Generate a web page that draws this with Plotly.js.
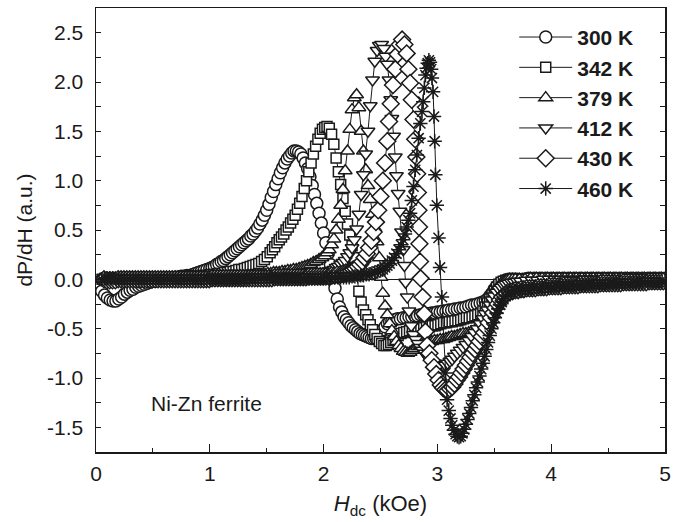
<!DOCTYPE html>
<html>
<head>
<meta charset="utf-8">
<script src="https://cdn.plot.ly/plotly-3.0.1.min.js"></script>
<style>
  html, body { margin: 0; padding: 0; background: #ffffff; }
  #chart { width: 681px; height: 522px; }
</style>
</head>
<body>
<div id="chart"></div>
<script>
// FMR derivative spectra of Ni-Zn ferrite, one list per temperature: [H_dc (kOe), dP/dH (a.u.)]
const spectrum300K = [[0.05,-0.12],[0.075,-0.16],[0.1,-0.19],[0.125,-0.21],[0.15,-0.22],[0.175,-0.22],[0.2,-0.2],[0.225,-0.18],[0.25,-0.15],[0.275,-0.13],[0.3,-0.11],[0.325,-0.1],[0.35,-0.08],[0.375,-0.07],[0.4,-0.06],[0.425,-0.05],[0.45,-0.04],[0.475,-0.03],[0.5,-0.02],[0.525,-0.02],[0.55,-0.01],[0.575,-0.01],[0.6,0],[0.625,0],[0.65,0.01],[0.675,0.01],[0.7,0.02],[0.725,0.02],[0.75,0.03],[0.775,0.03],[0.8,0.04],[0.825,0.04],[0.85,0.05],[0.875,0.06],[0.9,0.07],[0.925,0.08],[0.95,0.09],[0.975,0.1],[1,0.11],[1.02,0.12],[1.04,0.13],[1.06,0.15],[1.08,0.16],[1.1,0.18],[1.12,0.19],[1.14,0.21],[1.16,0.23],[1.18,0.25],[1.2,0.27],[1.22,0.29],[1.24,0.31],[1.26,0.33],[1.28,0.35],[1.3,0.37],[1.32,0.39],[1.34,0.41],[1.36,0.44],[1.38,0.46],[1.4,0.49],[1.42,0.52],[1.44,0.56],[1.46,0.6],[1.48,0.65],[1.5,0.7],[1.52,0.76],[1.54,0.83],[1.56,0.89],[1.58,0.96],[1.6,1.02],[1.62,1.08],[1.64,1.13],[1.66,1.18],[1.68,1.22],[1.7,1.25],[1.72,1.28],[1.74,1.3],[1.76,1.3],[1.78,1.29],[1.8,1.27],[1.82,1.23],[1.84,1.18],[1.86,1.12],[1.88,1.04],[1.9,0.95],[1.92,0.86],[1.94,0.77],[1.96,0.67],[1.98,0.57],[2,0.47],[2.02,0.37],[2.04,0.26],[2.06,0.15],[2.08,0.03],[2.1,-0.09],[2.12,-0.2],[2.14,-0.28],[2.16,-0.33],[2.18,-0.38],[2.2,-0.41],[2.22,-0.44],[2.24,-0.47],[2.26,-0.49],[2.28,-0.51],[2.3,-0.53],[2.32,-0.55],[2.34,-0.56],[2.36,-0.57],[2.38,-0.58],[2.4,-0.59],[2.42,-0.6],[2.44,-0.6],[2.46,-0.6],[2.48,-0.58],[2.5,-0.55],[2.52,-0.51],[2.54,-0.48],[2.56,-0.45],[2.58,-0.43],[2.6,-0.42],[2.625,-0.41],[2.65,-0.4],[2.675,-0.4],[2.7,-0.39],[2.725,-0.39],[2.75,-0.38],[2.775,-0.38],[2.8,-0.37],[2.825,-0.37],[2.85,-0.36],[2.875,-0.36],[2.9,-0.35],[2.925,-0.35],[2.95,-0.34],[2.975,-0.34],[3,-0.33],[3.025,-0.33],[3.05,-0.32],[3.075,-0.32],[3.1,-0.31],[3.125,-0.31],[3.15,-0.3],[3.175,-0.3],[3.2,-0.29],[3.225,-0.29],[3.25,-0.28],[3.275,-0.27],[3.3,-0.26],[3.325,-0.26],[3.35,-0.25],[3.375,-0.24],[3.4,-0.23],[3.42,-0.22],[3.44,-0.2],[3.46,-0.17],[3.48,-0.14],[3.5,-0.1],[3.52,-0.07],[3.54,-0.05],[3.56,-0.03],[3.58,-0.02],[3.6,-0.01],[3.625,0],[3.65,0],[3.675,0],[3.7,0],[3.75,0],[3.8,0.01],[3.85,0.01],[3.9,0.01],[3.95,0.01],[4,0.01],[4.05,0.01],[4.1,0.01],[4.15,0.01],[4.2,0.01],[4.25,0.01],[4.3,0.01],[4.35,0.01],[4.4,0.01],[4.45,0.01],[4.5,0.01],[4.55,0.01],[4.6,0.01],[4.65,0.01],[4.7,0.01],[4.75,0.01],[4.8,0.01],[4.85,0.01],[4.9,0.01],[4.95,0.01],[5,0.01]];

const spectrum342K = [[0.055,0],[0.08,0.01],[0.105,0.01],[0.13,0.01],[0.155,0.01],[0.18,0],[0.205,0],[0.23,0],[0.255,0],[0.28,0],[0.305,0],[0.33,0],[0.355,0],[0.38,0],[0.405,0],[0.43,0],[0.455,0],[0.48,0],[0.505,0],[0.53,0.01],[0.555,0.01],[0.58,0.01],[0.605,0.01],[0.63,0.01],[0.655,0.01],[0.68,0.01],[0.705,0.02],[0.73,0.02],[0.755,0.02],[0.78,0.02],[0.805,0.02],[0.83,0.03],[0.855,0.03],[0.88,0.03],[0.905,0.03],[0.93,0.04],[0.955,0.04],[0.98,0.04],[1.005,0.05],[1.03,0.05],[1.055,0.05],[1.08,0.06],[1.105,0.06],[1.13,0.07],[1.155,0.07],[1.18,0.08],[1.205,0.08],[1.23,0.09],[1.255,0.1],[1.28,0.1],[1.305,0.11],[1.33,0.12],[1.355,0.13],[1.38,0.14],[1.405,0.15],[1.43,0.16],[1.455,0.18],[1.48,0.2],[1.505,0.23],[1.53,0.27],[1.55,0.3],[1.57,0.33],[1.59,0.37],[1.61,0.4],[1.63,0.43],[1.65,0.46],[1.67,0.5],[1.69,0.53],[1.71,0.57],[1.73,0.61],[1.75,0.65],[1.77,0.71],[1.79,0.77],[1.81,0.84],[1.83,0.92],[1.85,1],[1.87,1.09],[1.89,1.18],[1.91,1.27],[1.93,1.35],[1.95,1.42],[1.97,1.48],[1.99,1.52],[2.01,1.54],[2.03,1.55],[2.05,1.53],[2.07,1.47],[2.09,1.37],[2.11,1.23],[2.13,1.09],[2.15,0.96],[2.17,0.82],[2.19,0.69],[2.21,0.56],[2.23,0.45],[2.25,0.34],[2.27,0.22],[2.29,0.06],[2.31,-0.12],[2.33,-0.23],[2.35,-0.31],[2.37,-0.36],[2.39,-0.41],[2.41,-0.46],[2.43,-0.51],[2.45,-0.56],[2.47,-0.6],[2.49,-0.63],[2.51,-0.65],[2.53,-0.67],[2.55,-0.67],[2.57,-0.66],[2.59,-0.64],[2.61,-0.62],[2.63,-0.59],[2.655,-0.57],[2.68,-0.55],[2.705,-0.54],[2.73,-0.53],[2.755,-0.52],[2.78,-0.52],[2.805,-0.51],[2.83,-0.51],[2.855,-0.5],[2.88,-0.49],[2.905,-0.48],[2.93,-0.48],[2.955,-0.47],[2.98,-0.47],[3.005,-0.46],[3.03,-0.45],[3.055,-0.44],[3.08,-0.44],[3.105,-0.43],[3.13,-0.43],[3.155,-0.42],[3.18,-0.42],[3.205,-0.41],[3.23,-0.4],[3.255,-0.39],[3.28,-0.39],[3.305,-0.38],[3.33,-0.37],[3.355,-0.36],[3.38,-0.35],[3.4,-0.32],[3.42,-0.28],[3.44,-0.24],[3.46,-0.2],[3.48,-0.16],[3.5,-0.12],[3.52,-0.08],[3.54,-0.05],[3.56,-0.03],[3.58,-0.02],[3.6,-0.01],[3.63,0],[3.66,0],[3.7,0],[3.76,0],[3.81,0.01],[3.86,0.01],[3.91,0.01],[3.96,0.01],[4.01,0.01],[4.06,0.01],[4.11,0.01],[4.16,0.01],[4.21,0.01],[4.26,0.01],[4.31,0.01],[4.36,0.01],[4.41,0.01],[4.46,0.01],[4.51,0.01],[4.56,0.01],[4.61,0.01],[4.66,0.01],[4.71,0.01],[4.76,0.01],[4.81,0.01],[4.86,0.01],[4.91,0.01],[4.96,0.01]];

const spectrum379K = [[0.06,0],[0.085,-0.01],[0.11,-0.01],[0.135,-0.01],[0.16,-0.01],[0.185,0],[0.21,0],[0.235,0],[0.26,0],[0.285,0],[0.31,0],[0.335,0],[0.36,0],[0.385,0],[0.41,0],[0.435,0],[0.46,0],[0.485,0],[0.51,0],[0.535,0],[0.56,0],[0.585,0],[0.61,0.01],[0.635,0.01],[0.66,0.01],[0.685,0.01],[0.71,0.01],[0.735,0.01],[0.76,0.01],[0.785,0.01],[0.81,0.01],[0.835,0.01],[0.86,0.01],[0.885,0.01],[0.91,0.01],[0.935,0.01],[0.96,0.01],[0.985,0.02],[1.01,0.02],[1.035,0.02],[1.06,0.02],[1.085,0.02],[1.11,0.02],[1.135,0.02],[1.16,0.02],[1.185,0.03],[1.21,0.03],[1.235,0.03],[1.26,0.03],[1.285,0.03],[1.31,0.03],[1.335,0.04],[1.36,0.04],[1.385,0.04],[1.41,0.05],[1.435,0.05],[1.46,0.05],[1.485,0.05],[1.51,0.06],[1.535,0.06],[1.56,0.07],[1.585,0.07],[1.61,0.07],[1.635,0.08],[1.66,0.08],[1.685,0.09],[1.71,0.09],[1.735,0.1],[1.76,0.1],[1.785,0.11],[1.81,0.12],[1.835,0.13],[1.86,0.14],[1.885,0.15],[1.91,0.17],[1.935,0.18],[1.96,0.2],[1.985,0.22],[2.01,0.24],[2.03,0.27],[2.05,0.3],[2.07,0.35],[2.09,0.41],[2.11,0.5],[2.13,0.61],[2.15,0.75],[2.17,0.91],[2.19,1.1],[2.21,1.3],[2.23,1.52],[2.25,1.72],[2.27,1.84],[2.29,1.87],[2.31,1.74],[2.33,1.5],[2.35,1.3],[2.37,1.11],[2.39,0.95],[2.41,0.81],[2.43,0.66],[2.45,0.52],[2.47,0.38],[2.49,0.22],[2.505,0.02],[2.52,-0.14],[2.54,-0.27],[2.56,-0.36],[2.58,-0.45],[2.6,-0.52],[2.62,-0.58],[2.64,-0.63],[2.66,-0.67],[2.68,-0.7],[2.7,-0.73],[2.72,-0.74],[2.74,-0.75],[2.76,-0.74],[2.78,-0.72],[2.8,-0.7],[2.825,-0.68],[2.85,-0.67],[2.875,-0.66],[2.9,-0.65],[2.925,-0.64],[2.95,-0.63],[2.975,-0.62],[3,-0.62],[3.025,-0.61],[3.05,-0.61],[3.075,-0.6],[3.1,-0.59],[3.125,-0.58],[3.15,-0.58],[3.175,-0.57],[3.2,-0.56],[3.225,-0.55],[3.25,-0.55],[3.275,-0.54],[3.3,-0.53],[3.325,-0.52],[3.35,-0.51],[3.375,-0.49],[3.39,-0.46],[3.41,-0.41],[3.43,-0.35],[3.45,-0.3],[3.47,-0.24],[3.49,-0.18],[3.51,-0.13],[3.53,-0.09],[3.55,-0.06],[3.57,-0.03],[3.59,-0.02],[3.61,-0.01],[3.635,0],[3.66,0],[3.685,0],[3.72,0],[3.77,0],[3.82,0.01],[3.87,0.01],[3.92,0.01],[3.97,0.01],[4.02,0.01],[4.07,0.01],[4.12,0.01],[4.17,0.01],[4.22,0.01],[4.27,0.01],[4.32,0.01],[4.37,0.01],[4.42,0.01],[4.47,0.01],[4.52,0.01],[4.57,0.01],[4.62,0.01],[4.67,0.01],[4.72,0.01],[4.77,0.01],[4.82,0.01],[4.87,0.01],[4.92,0.01],[4.97,0.01]];

const spectrum412K = [[0.065,0],[0.09,0],[0.115,-0.01],[0.14,-0.01],[0.165,-0.01],[0.19,0],[0.215,0],[0.24,0],[0.265,0],[0.29,0],[0.315,0],[0.34,0],[0.365,0],[0.39,0],[0.415,0],[0.44,0],[0.465,0],[0.49,0],[0.515,0],[0.54,0],[0.565,0],[0.59,0],[0.615,0],[0.64,0],[0.665,0],[0.69,0],[0.715,0],[0.74,0],[0.765,0],[0.79,0],[0.815,0.01],[0.84,0.01],[0.865,0.01],[0.89,0.01],[0.915,0.01],[0.94,0.01],[0.965,0.01],[0.99,0.01],[1.015,0.01],[1.04,0.01],[1.065,0.01],[1.09,0.01],[1.115,0.01],[1.14,0.01],[1.165,0.01],[1.19,0.01],[1.215,0.01],[1.24,0.01],[1.265,0.02],[1.29,0.02],[1.315,0.02],[1.34,0.02],[1.365,0.02],[1.39,0.02],[1.415,0.02],[1.44,0.02],[1.465,0.02],[1.49,0.02],[1.515,0.02],[1.54,0.02],[1.565,0.03],[1.59,0.03],[1.615,0.03],[1.64,0.03],[1.665,0.03],[1.69,0.03],[1.715,0.04],[1.74,0.04],[1.765,0.04],[1.79,0.04],[1.815,0.05],[1.84,0.05],[1.865,0.05],[1.89,0.05],[1.915,0.06],[1.94,0.06],[1.965,0.06],[1.99,0.07],[2.015,0.08],[2.04,0.08],[2.065,0.09],[2.09,0.1],[2.11,0.12],[2.13,0.13],[2.15,0.15],[2.17,0.17],[2.19,0.19],[2.21,0.23],[2.23,0.27],[2.25,0.32],[2.27,0.4],[2.29,0.51],[2.31,0.66],[2.33,0.86],[2.35,1.06],[2.37,1.27],[2.39,1.5],[2.41,1.76],[2.43,2.02],[2.45,2.21],[2.47,2.32],[2.49,2.37],[2.51,2.38],[2.53,2.34],[2.545,2.26],[2.56,2.18],[2.575,2.02],[2.59,1.82],[2.6,1.63],[2.615,1.45],[2.63,1.24],[2.64,1.05],[2.655,0.87],[2.67,0.69],[2.685,0.48],[2.7,0.3],[2.71,0.14],[2.72,-0.03],[2.735,-0.18],[2.75,-0.32],[2.77,-0.47],[2.79,-0.56],[2.81,-0.61],[2.83,-0.65],[2.85,-0.69],[2.87,-0.72],[2.89,-0.75],[2.91,-0.78],[2.93,-0.81],[2.95,-0.83],[2.97,-0.85],[2.99,-0.86],[3.01,-0.87],[3.03,-0.88],[3.05,-0.88],[3.07,-0.87],[3.09,-0.85],[3.11,-0.83],[3.13,-0.81],[3.15,-0.78],[3.175,-0.75],[3.2,-0.72],[3.225,-0.69],[3.25,-0.66],[3.275,-0.62],[3.3,-0.58],[3.325,-0.54],[3.35,-0.5],[3.375,-0.45],[3.4,-0.4],[3.42,-0.35],[3.44,-0.31],[3.46,-0.26],[3.48,-0.21],[3.5,-0.17],[3.52,-0.13],[3.54,-0.1],[3.56,-0.08],[3.58,-0.06],[3.6,-0.05],[3.625,-0.04],[3.65,-0.03],[3.675,-0.03],[3.7,-0.02],[3.73,-0.02],[3.78,-0.01],[3.83,-0.01],[3.88,-0.01],[3.93,0],[3.98,0],[4.03,0],[4.08,0],[4.13,0],[4.18,0],[4.23,0],[4.28,0],[4.33,0],[4.38,0],[4.43,0],[4.48,0],[4.53,0],[4.58,0],[4.63,0],[4.68,0],[4.73,0],[4.78,0],[4.83,0],[4.88,0],[4.93,0],[4.98,0]];

const spectrum430K = [[0.07,0],[0.095,-0.01],[0.12,-0.01],[0.145,-0.01],[0.17,-0.01],[0.195,0],[0.22,0],[0.245,0],[0.27,0],[0.295,0],[0.32,0],[0.345,0],[0.37,0],[0.395,0],[0.42,0],[0.445,0],[0.47,0],[0.495,0],[0.52,0],[0.545,0],[0.57,0],[0.595,0],[0.62,0],[0.645,0],[0.67,0],[0.695,0],[0.72,0],[0.745,0],[0.77,0],[0.795,0],[0.82,0],[0.845,0],[0.87,0],[0.895,0],[0.92,0],[0.945,0],[0.97,0],[0.995,0],[1.02,0.01],[1.045,0.01],[1.07,0.01],[1.095,0.01],[1.12,0.01],[1.145,0.01],[1.17,0.01],[1.195,0.01],[1.22,0.01],[1.245,0.01],[1.27,0.01],[1.295,0.01],[1.32,0.01],[1.345,0.01],[1.37,0.01],[1.395,0.01],[1.42,0.01],[1.445,0.01],[1.47,0.01],[1.495,0.01],[1.52,0.01],[1.545,0.01],[1.57,0.02],[1.595,0.02],[1.62,0.02],[1.645,0.02],[1.67,0.02],[1.695,0.02],[1.72,0.02],[1.745,0.02],[1.77,0.02],[1.795,0.02],[1.82,0.02],[1.845,0.02],[1.87,0.03],[1.895,0.03],[1.92,0.03],[1.945,0.03],[1.97,0.03],[1.995,0.03],[2.02,0.03],[2.045,0.03],[2.07,0.04],[2.095,0.04],[2.12,0.05],[2.145,0.05],[2.17,0.06],[2.195,0.07],[2.22,0.08],[2.24,0.09],[2.26,0.1],[2.28,0.11],[2.3,0.13],[2.32,0.15],[2.34,0.18],[2.36,0.22],[2.38,0.26],[2.4,0.32],[2.42,0.39],[2.44,0.48],[2.46,0.58],[2.48,0.7],[2.5,0.84],[2.52,1],[2.54,1.18],[2.56,1.4],[2.575,1.6],[2.59,1.78],[2.61,1.97],[2.63,2.13],[2.65,2.28],[2.67,2.38],[2.69,2.43],[2.71,2.38],[2.73,2.29],[2.745,2.13],[2.76,1.99],[2.775,1.82],[2.79,1.62],[2.805,1.42],[2.815,1.24],[2.822,1.07],[2.828,0.88],[2.833,0.7],[2.838,0.53],[2.842,0.36],[2.847,0.18],[2.852,0.01],[2.87,-0.18],[2.885,-0.35],[2.895,-0.53],[2.91,-0.67],[2.93,-0.75],[2.95,-0.82],[2.97,-0.89],[2.99,-0.96],[3.01,-1.02],[3.03,-1.07],[3.05,-1.1],[3.07,-1.12],[3.09,-1.13],[3.11,-1.11],[3.13,-1.09],[3.15,-1.06],[3.17,-1.02],[3.19,-0.99],[3.21,-0.95],[3.23,-0.91],[3.25,-0.87],[3.27,-0.83],[3.29,-0.79],[3.31,-0.75],[3.33,-0.71],[3.35,-0.67],[3.37,-0.63],[3.39,-0.58],[3.41,-0.54],[3.43,-0.49],[3.45,-0.44],[3.47,-0.39],[3.49,-0.34],[3.51,-0.29],[3.53,-0.25],[3.55,-0.21],[3.57,-0.18],[3.59,-0.16],[3.61,-0.14],[3.635,-0.13],[3.66,-0.12],[3.685,-0.11],[3.71,-0.11],[3.735,-0.1],[3.76,-0.1],[3.785,-0.09],[3.81,-0.09],[3.835,-0.09],[3.86,-0.09],[3.885,-0.08],[3.91,-0.08],[3.935,-0.08],[3.96,-0.08],[3.985,-0.07],[4.01,-0.07],[4.035,-0.07],[4.06,-0.07],[4.085,-0.07],[4.11,-0.06],[4.135,-0.06],[4.16,-0.06],[4.185,-0.06],[4.21,-0.06],[4.235,-0.06],[4.26,-0.05],[4.285,-0.05],[4.31,-0.05],[4.335,-0.05],[4.36,-0.05],[4.385,-0.05],[4.41,-0.05],[4.435,-0.04],[4.46,-0.04],[4.485,-0.04],[4.51,-0.04],[4.535,-0.04],[4.56,-0.04],[4.585,-0.04],[4.61,-0.04],[4.635,-0.03],[4.66,-0.03],[4.685,-0.03],[4.71,-0.03],[4.735,-0.03],[4.76,-0.03],[4.785,-0.03],[4.81,-0.03],[4.835,-0.03],[4.86,-0.02],[4.885,-0.02],[4.91,-0.02],[4.935,-0.02],[4.96,-0.02],[4.985,-0.02]];

const spectrum460K = [[0.05,0],[0.075,0.01],[0.1,0.01],[0.125,0.01],[0.15,0.01],[0.175,0],[0.2,0],[0.225,0],[0.25,0],[0.275,0],[0.3,0],[0.325,0],[0.35,0],[0.375,0],[0.4,0],[0.425,0],[0.45,0],[0.475,0],[0.5,0],[0.525,0],[0.55,0],[0.575,0],[0.6,0],[0.625,0],[0.65,0],[0.675,0],[0.7,0],[0.725,0],[0.75,0],[0.775,0],[0.8,0],[0.825,0],[0.85,0],[0.875,0],[0.9,0],[0.925,0],[0.95,0],[0.975,0],[1,0],[1.025,0],[1.05,0],[1.075,0],[1.1,0],[1.125,0],[1.15,0],[1.175,0],[1.2,0],[1.225,0],[1.25,0],[1.275,0],[1.3,0],[1.325,0.01],[1.35,0.01],[1.375,0.01],[1.4,0.01],[1.425,0.01],[1.45,0.01],[1.475,0.01],[1.5,0.01],[1.525,0.01],[1.55,0.01],[1.575,0.01],[1.6,0.01],[1.625,0.01],[1.65,0.01],[1.675,0.01],[1.7,0.01],[1.725,0.01],[1.75,0.01],[1.775,0.01],[1.8,0.01],[1.825,0.01],[1.85,0.01],[1.875,0.01],[1.9,0.01],[1.925,0.01],[1.95,0.01],[1.975,0.01],[2,0.01],[2.025,0.02],[2.05,0.02],[2.075,0.02],[2.1,0.02],[2.125,0.02],[2.15,0.02],[2.175,0.02],[2.2,0.02],[2.225,0.02],[2.25,0.03],[2.275,0.03],[2.3,0.03],[2.325,0.04],[2.35,0.04],[2.375,0.05],[2.4,0.05],[2.425,0.06],[2.45,0.07],[2.475,0.08],[2.5,0.09],[2.52,0.1],[2.54,0.12],[2.56,0.14],[2.58,0.16],[2.6,0.19],[2.62,0.22],[2.64,0.26],[2.66,0.3],[2.68,0.35],[2.7,0.4],[2.715,0.46],[2.73,0.53],[2.745,0.6],[2.76,0.67],[2.775,0.8],[2.79,0.94],[2.805,1.11],[2.82,1.26],[2.835,1.43],[2.85,1.58],[2.865,1.7],[2.875,1.8],[2.885,1.94],[2.895,2.07],[2.905,2.14],[2.915,2.19],[2.925,2.22],[2.935,2.2],[2.945,2.13],[2.952,2.04],[2.962,1.9],[2.97,1.65],[2.976,1.4],[2.982,1.06],[2.995,0.75],[3.01,0.42],[3.023,0.12],[3.04,-0.18],[3.07,-0.95],[3.085,-1.22],[3.1,-1.33],[3.115,-1.41],[3.13,-1.48],[3.145,-1.53],[3.16,-1.57],[3.175,-1.59],[3.19,-1.6],[3.205,-1.59],[3.22,-1.56],[3.235,-1.52],[3.25,-1.47],[3.265,-1.42],[3.28,-1.36],[3.295,-1.3],[3.31,-1.23],[3.325,-1.17],[3.34,-1.1],[3.355,-1.04],[3.37,-0.98],[3.385,-0.91],[3.4,-0.85],[3.415,-0.78],[3.43,-0.71],[3.445,-0.64],[3.46,-0.57],[3.475,-0.5],[3.49,-0.44],[3.505,-0.39],[3.52,-0.34],[3.535,-0.3],[3.55,-0.26],[3.565,-0.23],[3.58,-0.2],[3.6,-0.17],[3.625,-0.15],[3.65,-0.13],[3.675,-0.12],[3.7,-0.12],[3.725,-0.11],[3.75,-0.11],[3.775,-0.1],[3.8,-0.1],[3.825,-0.1],[3.85,-0.09],[3.875,-0.09],[3.9,-0.09],[3.925,-0.09],[3.95,-0.08],[3.975,-0.08],[4,-0.08],[4.025,-0.08],[4.05,-0.07],[4.075,-0.07],[4.1,-0.07],[4.125,-0.07],[4.15,-0.07],[4.175,-0.06],[4.2,-0.06],[4.225,-0.06],[4.25,-0.06],[4.275,-0.06],[4.3,-0.06],[4.325,-0.05],[4.35,-0.05],[4.375,-0.05],[4.4,-0.05],[4.425,-0.05],[4.45,-0.05],[4.475,-0.05],[4.5,-0.05],[4.525,-0.04],[4.55,-0.04],[4.575,-0.04],[4.6,-0.04],[4.625,-0.04],[4.65,-0.04],[4.675,-0.04],[4.7,-0.04],[4.725,-0.03],[4.75,-0.03],[4.775,-0.03],[4.8,-0.03],[4.825,-0.03],[4.85,-0.03],[4.875,-0.03],[4.9,-0.03],[4.925,-0.03],[4.95,-0.03],[4.975,-0.03],[5,-0.03]];

const temperatures = ['300 K', '342 K', '379 K', '412 K', '430 K', '460 K'];
const yTickValues = [-1.5, -1.0, -0.5, 0.0, 0.5, 1.0, 1.5, 2.0, 2.5];
const yTickLabels = ['-1.5', '-1.0', '-0.5', '0.0', '0.5', '1.0', '1.5', '2.0', '2.5'];
const xTickValues = [0, 1, 2, 3, 4, 5];
const xTickLabels = ['0', '1', '2', '3', '4', '5'];

const spectra = [spectrum300K, spectrum342K, spectrum379K, spectrum412K, spectrum430K, spectrum460K];

// marker styling per temperature
const markerStyles = [
  { symbol: 'circle', size: 12 },
  { symbol: 'square', size: 10 },
  { symbol: 'triangle-up', size: 12 },
  { symbol: 'triangle-down', size: 12 },
  { symbol: 'diamond', size: 13 },
  { symbol: 'asterisk-open', size: 12 }
];

const FONT = 'Liberation Sans, Arial, Helvetica, sans-serif';
const INK = '#1a1a1a';

const traces = spectra.map((pts, i) => {
  const st = markerStyles[i];
  const isStar = st.symbol.indexOf('asterisk') === 0;
  return {
    type: 'scatter',
    mode: 'lines+markers',
    name: temperatures[i],
    legendgroup: 'g' + i,
    x: pts.map(p => p[0]),
    y: pts.map(p => p[1]),
    line: { color: INK, width: 1 },
    marker: {
      symbol: st.symbol,
      size: st.size,
      color: isStar ? INK : '#ffffff',
      line: { color: INK, width: 1.5 }
    }
  };
});

const layout = {
  width: 681,
  height: 522,
  margin: { l: 96, r: 16, t: 8, b: 70 },
  paper_bgcolor: '#ffffff',
  plot_bgcolor: '#ffffff',
  font: { family: FONT, size: 21, color: INK },
  showlegend: true,
  legend: {
    x: 0.735, y: 0.98, xanchor: 'left', yanchor: 'top',
    bgcolor: 'rgba(0,0,0,0)', borderwidth: 0,
    traceorder: 'grouped', tracegroupgap: 0,
    itemwidth: 53,
    font: { family: FONT, size: 21, color: INK, weight: 'bold' }
  },
  xaxis: {
    range: [0, 5],
    tickmode: 'array', tickvals: xTickValues, ticktext: xTickLabels,
    ticks: 'inside', ticklen: 8, tickwidth: 1, tickcolor: INK,
    minor: { tickmode: 'linear', tick0: 0, dtick: 0.5, ticks: 'inside', ticklen: 4, tickcolor: INK, tickwidth: 1 },
    showline: true, linecolor: INK, linewidth: 1.5, mirror: true,
    showgrid: false, zeroline: false,
    ticklabelstandoff: 2,
    tickfont: { family: FONT, size: 21, color: INK },
    title: { text: '<i>H</i><sub>dc</sub> (kOe)', font: { family: FONT, size: 22, color: INK }, standoff: 12 }
  },
  yaxis: {
    range: [-1.75, 2.75],
    tickmode: 'array', tickvals: yTickValues, ticktext: yTickLabels,
    ticks: 'inside', ticklen: 5, tickwidth: 1, tickcolor: INK,
    minor: { tickmode: 'linear', tick0: 0, dtick: 0.25, ticks: 'inside', ticklen: 5, tickcolor: INK, tickwidth: 1 },
    showline: true, linecolor: INK, linewidth: 1.5, mirror: 'ticks',
    showgrid: false,
    zeroline: true, zerolinecolor: INK, zerolinewidth: 1.5,
    ticklabelstandoff: 7,
    tickfont: { family: FONT, size: 21, color: INK },
    title: { text: 'dP/dH (a.u.)', font: { family: FONT, size: 21, color: INK }, standoff: 9 }
  },
  annotations: [{
    text: 'Ni-Zn ferrite',
    xref: 'x', yref: 'y', x: 0.47, y: -1.26,
    xanchor: 'left', yanchor: 'middle', showarrow: false,
    font: { family: FONT, size: 21, color: INK }
  }]
};

Plotly.newPlot('chart', traces, layout, { displayModeBar: false, staticPlot: true });
</script>
</body>
</html>
